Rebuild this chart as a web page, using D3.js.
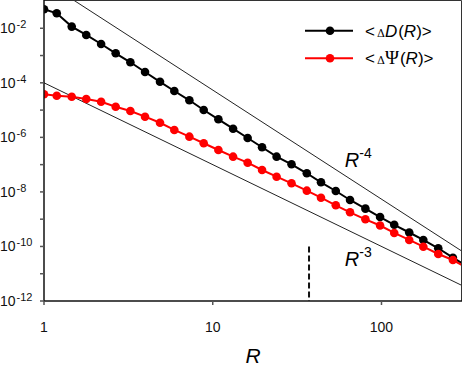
<!DOCTYPE html>
<html>
<head>
<meta charset="utf-8">
<script src="https://cdn.jsdelivr.net/npm/d3@7"></script>
<style>
  body { margin: 0; background: #fff; }
  svg { font-family: Arial, "Liberation Sans", sans-serif; }
</style>
</head>
<body>
<script>
// data (log-log)
var rValues = [1, 1.19, 1.46, 1.78, 2.18, 2.66, 3.25, 3.97, 4.87, 5.92, 7.27, 8.84, 10.8, 13.2, 16.1,
  19.6, 23.9, 29.3, 36.1, 43.8, 53.6, 65.1, 80.3, 98.1, 119, 146, 177, 217, 265, 324];
var deltaD = [4.97e-2, 3.55e-2, 1.15e-2, 5.68e-3, 2.65e-3, 1.21e-3, 5.66e-4, 2.50e-4, 1.09e-4, 5.02e-5,
  2.29e-5, 1.01e-5, 4.60e-6, 2.08e-6, 9.5e-7, 4.33e-7, 1.96e-7, 1.03e-7, 4.82e-8, 2.25e-8,
  1.08e-8, 5.06e-9, 2.43e-9, 1.20e-9, 6.22e-10, 3.25e-10, 1.73e-10, 8.57e-11, 3.87e-11, 1.8e-11];
var deltaPsi = [3.80e-5, 3.37e-5, 3.10e-5, 2.55e-5, 2.03e-5, 1.33e-5, 9.27e-6, 5.73e-6, 3.43e-6, 1.87e-6,
  1.06e-6, 6.07e-7, 3.44e-7, 1.96e-7, 1.18e-7, 6.37e-8, 3.61e-8, 2.07e-8, 1.11e-8, 6.14e-9,
  3.23e-9, 1.79e-9, 9.9e-10, 5.87e-10, 3.12e-10, 1.73e-10, 9.8e-11, 5.3e-11, 3.18e-11, 1.6e-11];

// guide power laws  C * R^p
var guideExp = [-4, -3];
var guideCoef = [0.542, 1e-4];
var guideLabelR = [60.6, 60.6];
var guideLabelV = [8.4e-8, 1.9e-11];

var cutoffR = 37.2;
var cutoffRange = [1e-10, 1e-12];

var xTicks = [1, 10, 100];
var yMajorExp = [-12, -10, -8, -6, -4, -2];
var yMinorExp = [-11, -9, -7, -5, -3];

var width = 463, height = 368;
var mLeft = 44, mRight = 462, mTop = 1, mBottom = 301;

var x = d3.scaleLog().domain([1, 300]).range([mLeft, mRight]);
var y = d3.scaleLog().domain([1e-12, 1e-1]).range([mBottom, mTop]);

var svg = d3.select("body").append("svg")
  .attr("width", width)
  .attr("height", height);

svg.append("defs").append("clipPath").attr("id", "plot")
  .append("rect")
  .attr("x", mLeft).attr("y", 0)
  .attr("width", mRight - mLeft).attr("height", mBottom);

var plot = svg.append("g").attr("clip-path", "url(#plot)");

// guide lines
guideExp.forEach(function (p, i) {
  var pts = [1, 300].map(function (r) { return [r, guideCoef[i] * Math.pow(r, p)]; });
  plot.append("path")
    .attr("d", d3.line().x(d => x(d[0])).y(d => y(d[1]))(pts))
    .attr("fill", "none")
    .attr("stroke", "#222")
    .attr("stroke-width", 1);
});

// dashed cutoff
plot.append("line")
  .attr("x1", x(cutoffR)).attr("x2", x(cutoffR))
  .attr("y1", y(cutoffRange[0])).attr("y2", y(cutoffRange[1]))
  .attr("stroke", "#111")
  .attr("stroke-width", 2)
  .attr("stroke-dasharray", "6,3");

var series = [
  {name: "D", values: deltaD, color: "#000"},
  {name: "Psi", values: deltaPsi, color: "#ff0000"}
];

var line = d3.line().x(d => x(d[0])).y(d => y(d[1]));

series.forEach(function (s) {
  var pts = rValues.map(function (r, i) { return [r, s.values[i]]; });
  plot.append("path")
    .attr("d", line(pts))
    .attr("fill", "none")
    .attr("stroke", s.color)
    .attr("stroke-width", 2);
  plot.selectAll(".m-" + s.name)
    .data(pts)
    .enter()
    .append("circle")
    .attr("class", "m-" + s.name)
    .attr("cx", d => x(d[0]))
    .attr("cy", d => y(d[1]))
    .attr("r", 4.3)
    .attr("fill", s.color);
});

// frame (top, right)
svg.append("path")
  .attr("d", "M" + mLeft + "," + (mTop - 0.5) + "H" + (mRight - 0.5) + "V" + mBottom)
  .attr("fill", "none")
  .attr("stroke", "#333")
  .attr("stroke-width", 1);

// axes
var yAxis = svg.append("g");
yAxis.append("line")
  .attr("x1", mLeft).attr("x2", mLeft).attr("y1", mTop - 1).attr("y2", mBottom + 0.5)
  .attr("stroke", "#111").attr("stroke-width", 1.5);
yMajorExp.concat(yMinorExp).forEach(function (e) {
  yAxis.append("line")
    .attr("x1", mLeft - 4).attr("x2", mLeft)
    .attr("y1", y(Math.pow(10, e))).attr("y2", y(Math.pow(10, e)))
    .attr("stroke", "#555").attr("stroke-width", 1.5);
});
yMajorExp.forEach(function (e) {
  var t = yAxis.append("text")
    .attr("x", 0)
    .attr("y", y(Math.pow(10, e)) + 5)
    .style("font-size", "14px")
    .attr("fill", "#111");
  t.append("tspan").text("10");
  t.append("tspan").attr("dx", 1).attr("dy", -5).style("font-size", "11px").text(String(e));
});

var xAxis = svg.append("g");
xAxis.append("line")
  .attr("x1", mLeft).attr("x2", mRight).attr("y1", mBottom).attr("y2", mBottom)
  .attr("stroke", "#111").attr("stroke-width", 1.5);
xTicks.forEach(function (v) {
  xAxis.append("line")
    .attr("x1", x(v)).attr("x2", x(v)).attr("y1", mBottom).attr("y2", mBottom + 4)
    .attr("stroke", "#555").attr("stroke-width", 1.5);
  xAxis.append("text")
    .attr("x", x(v)).attr("y", 332)
    .attr("text-anchor", "middle")
    .style("font-size", "14px")
    .attr("fill", "#111")
    .text(v);
});
svg.append("text")
  .attr("x", (mLeft + mRight) / 2).attr("y", 363)
  .attr("text-anchor", "middle")
  .style("font-size", "21px")
  .style("font-style", "italic")
  .text("R");

// guide labels
guideExp.forEach(function (p, i) {
  var t = svg.append("text")
    .attr("x", x(guideLabelR[i])).attr("y", y(guideLabelV[i]))
    .style("font-size", "20px");
  t.append("tspan").style("font-style", "italic").text("R");
  t.append("tspan").attr("dy", -9).style("font-size", "14px").text(String(p));
});

// legend
var lg = svg.append("g");
series.forEach(function (s, i) {
  var yy = 30.7 + i * 27.5;
  lg.append("line")
    .attr("x1", 305).attr("x2", 353).attr("y1", yy).attr("y2", yy)
    .attr("stroke", s.color).attr("stroke-width", 2);
  lg.append("circle").attr("cx", 330).attr("cy", yy).attr("r", 4.3).attr("fill", s.color);
  var t = lg.append("text").attr("x", 365).attr("y", yy + 6).style("font-size", "17px");
  t.append("tspan").text("<");
  t.append("tspan").attr("dx", 2).style("font-family", "'DejaVu Serif', serif").style("font-size", "11px").text("\u0394");
  if (i === 0) {
    t.append("tspan").style("font-style", "italic").text("D");
  } else {
    t.append("tspan").style("font-family", "'Liberation Serif', serif").style("font-size", "19px").text("\u03A8");
  }
  t.append("tspan").attr("dx", 1).text("(");
  t.append("tspan").style("font-style", "italic").text("R");
  t.append("tspan").text(")>");
});
</script>
</body>
</html>
